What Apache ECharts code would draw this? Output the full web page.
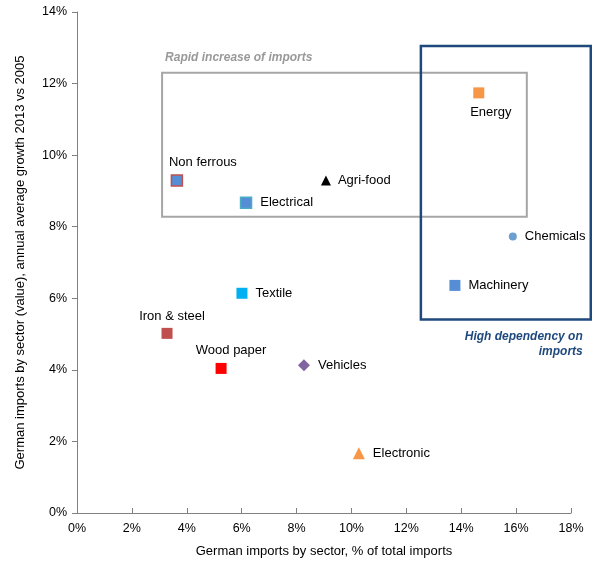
<!DOCTYPE html>
<html>
<head>
<meta charset="utf-8">
<script src="https://cdn.jsdelivr.net/npm/echarts@6/dist/echarts.min.js"></script>
<style>
  html, body { margin: 0; padding: 0; background: #fff; }
  #chart { width: 599px; height: 563px; }
</style>
</head>
<body>
<div id="chart"></div>
<script>
// sectors, share of total imports (%) vs annual growth (%)
var sectors = ['Energy', 'Non ferrous', 'Agri-food', 'Electrical', 'Chemicals', 'Machinery',
  'Textile', 'Iron & steel', 'Wood paper', 'Vehicles', 'Electronic'];
var shareOfImports = [14.64, 3.64, 9.07, 6.16, 15.88, 13.77, 6.01, 3.28, 5.25, 8.27, 10.27];
var importGrowth = [11.74, 9.29, 9.29, 8.67, 7.73, 6.36, 6.14, 5.02, 4.04, 4.13, 1.67];

var xTicks = [0, 2, 4, 6, 8, 10, 12, 14, 16, 18];
var yTicks = [0, 2, 4, 6, 8, 10, 12, 14];

// annotation boxes [x0, y0, x1, y1] in data units
var rapidBox = [3.1, 8.28, 16.39, 12.3];
var dependBox = [12.53, 5.41, 18.72, 13.05];

var FONT = 'Liberation Sans, Arial, sans-serif';

// marker look per sector
var look = {
  'Energy':      {symbol: 'rect', size: 11, color: '#F79646', label: 'bottom', offset: [12, 3]},
  'Non ferrous': {symbol: 'rect', size: 11, color: '#558ED5', border: '#C0504D', label: 'top', offset: [26, 0]},
  'Agri-food':   {symbol: 'triangle', size: 10, color: '#000000', label: 'right', offset: [2, 0]},
  'Electrical':  {symbol: 'rect', size: 11, color: '#558ED5', border: '#4BACC6', label: 'right', offset: [3, 0]},
  'Chemicals':   {symbol: 'circle', size: 8, color: '#6A9FCF', label: 'right', offset: [3, 0]},
  'Machinery':   {symbol: 'rect', size: 11, color: '#558ED5', label: 'right', offset: [3, 0]},
  'Textile':     {symbol: 'rect', size: 11, color: '#00B0F0', label: 'right', offset: [3, 0]},
  'Iron & steel':{symbol: 'rect', size: 11, color: '#C0504D', label: 'top', offset: [5, 0]},
  'Wood paper':  {symbol: 'rect', size: 11, color: '#FF0000', label: 'top', offset: [10, -1]},
  'Vehicles':    {symbol: 'diamond', size: 12, color: '#8064A2', label: 'right', offset: [3, 0]},
  'Electronic':  {symbol: 'triangle', size: 12, color: '#F79646', label: 'right', offset: [3, 0]}
};

var points = sectors.map(function (name, i) {
  var s = look[name];
  return {
    name: name,
    value: [shareOfImports[i], importGrowth[i]],
    symbol: s.symbol,
    symbolSize: s.size,
    itemStyle: {color: s.color, opacity: 1, borderColor: s.border || s.color, borderWidth: s.border ? 1.5 : 0},
    label: {show: true, position: s.label, offset: s.offset, formatter: name}
  };
});

var chart = echarts.init(document.getElementById('chart'));

chart.setOption({
  animation: false,
  grid: {left: 77, right: 28, top: 12, bottom: 49},
  xAxis: {
    type: 'value', min: 0, max: 18, interval: 2,
    name: 'German imports by sector, % of total imports',
    nameLocation: 'middle', nameGap: 32,
    nameTextStyle: {color: '#000', fontSize: 13, fontFamily: FONT},
    axisLine: {show: true, lineStyle: {color: '#808080', width: 1}},
    axisTick: {show: true, inside: true, length: 5, lineStyle: {color: '#808080'}},
    axisLabel: {color: '#000', fontSize: 12.5, fontFamily: FONT, margin: 9,
      formatter: function (v) { return xTicks.indexOf(v) >= 0 ? v + '%' : ''; }},
    splitLine: {show: false}
  },
  yAxis: {
    type: 'value', min: 0, max: 14, interval: 2,
    name: 'German imports by sector (value), annual average growth 2013 vs 2005',
    nameLocation: 'middle', nameGap: 50,
    nameTextStyle: {color: '#000', fontSize: 13, fontFamily: FONT},
    axisLine: {show: true, lineStyle: {color: '#808080', width: 1}},
    axisTick: {show: true, inside: false, length: 5, lineStyle: {color: '#808080'}},
    axisLabel: {color: '#000', fontSize: 12.5, fontFamily: FONT, margin: 10,
      formatter: function (v) { return yTicks.indexOf(v) >= 0 ? v + '%' : ''; }},
    splitLine: {show: false}
  },
  series: [{
    type: 'scatter',
    data: points,
    clip: false,
    label: {color: '#000', fontSize: 13, fontFamily: FONT, distance: 5},
    emphasis: {disabled: true},
    z: 5
  }]
});

// boxes and their captions, positioned through the axes
function px(x, y) { return chart.convertToPixel({gridIndex: 0}, [x, y]); }
var r0 = px(rapidBox[0], rapidBox[3]), r1 = px(rapidBox[2], rapidBox[1]);
var d0 = px(dependBox[0], dependBox[3]), d1 = px(dependBox[2], dependBox[1]);

chart.setOption({
  graphic: [
    {type: 'rect', z: 1, shape: {x: r0[0], y: r0[1], width: r1[0] - r0[0], height: r1[1] - r0[1]},
      style: {fill: null, stroke: '#A6A6A6', lineWidth: 2}},
    {type: 'rect', z: 2, shape: {x: d0[0], y: d0[1], width: d1[0] - d0[0], height: d1[1] - d0[1]},
      style: {fill: null, stroke: '#1F497D', lineWidth: 2.5}},
    {type: 'text', z: 3, x: r0[0] + 3, y: r0[1] - 21,
      style: {text: 'Rapid increase of imports', fill: '#999999', font: 'italic bold 12px ' + FONT}},
    {type: 'text', z: 3, x: d1[0] - 8, y: d1[1] + 10,
      style: {text: 'High dependency on\nimports', fill: '#1F497D', font: 'italic bold 12px ' + FONT,
        align: 'right', lineHeight: 15}}
  ]
});
</script>
</body>
</html>
